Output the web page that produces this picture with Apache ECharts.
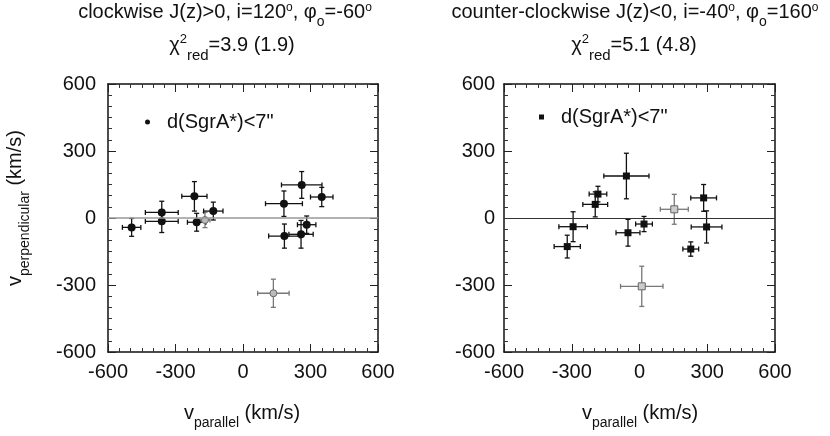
<!DOCTYPE html>
<html>
<head>
<meta charset="utf-8">
<script src="https://cdn.jsdelivr.net/npm/echarts@6/dist/echarts.min.js"></script>
<style>html,body{margin:0;padding:0;background:#fff}#c{width:830px;height:436px}</style>
</head>
<body>
<div id="c"></div>
<script>
// ---- data (km/s) ----
const axisTicks = [-600, -300, 0, 300, 600];

// clockwise panel, d(SgrA*)<7"
const cwX    = [-495, -361, -361, -216, -206, -132, 182, 261, 350, 184, 258, 283];
const cwY    = [-42, 25, -15, 97, -19, 31, 64, 148, 94, -81, -73, -30];
const cwXErr = [41, 73, 73, 56, 41, 43, 82, 90, 50, 70, 54, 41];
const cwYErr = [40, 50, 50, 66, 40, 40, 57, 60, 43, 54, 62, 39];
// clockwise panel, other stars (grey)
const cwOtherX    = [-169, 135];
const cwOtherY    = [-9, -337];
const cwOtherXErr = [22, 70];
const cwOtherYErr = [34, 63];

// counter-clockwise panel, d(SgrA*)<7"
const ccwX    = [-320, -294, -196, -184, -58, -51, 20, 284, 297, 227];
const ccwY    = [-128, -39, 61, 107, 188, -66, -27, 90, -40, -139];
const ccwXErr = [58, 63, 55, 39, 100, 53, 37, 57, 68, 35];
const ccwYErr = [51, 67, 56, 35, 102, 60, 34, 60, 72, 32];
// counter-clockwise panel, other stars (grey)
const ccwOtherX    = [154, 10];
const ccwOtherY    = [39, -306];
const ccwOtherXErr = [62, 94];
const ccwOtherYErr = [67, 90];

const legendName = 'd(SgrA*)<7"';

// ---- helpers ----
const FF = "'Liberation Sans', Arial, Helvetica, sans-serif";
function zip4(a, b, c, d) { return a.map((v, i) => [v, b[i], c[i], d[i]]); }

function makeAxis(type, gridIndex, position, showLabel, margin) {
  return {
    type: 'value', gridIndex: gridIndex, position: position,
    min: axisTicks[0], max: axisTicks[axisTicks.length - 1], interval: axisTicks[1] - axisTicks[0],
    axisLine: { show: true, onZero: false, lineStyle: { color: '#111', width: 1.5 } },
    axisTick: { show: true, inside: true, length: 8, lineStyle: { color: '#222', width: 1 } },
    minorTick: { show: true, splitNumber: 6, length: 4, lineStyle: { color: '#333', width: 1 } },
    splitLine: { show: false },
    axisLabel: { show: showLabel, margin: margin, fontSize: 20, color: '#111', fontFamily: FF }
  };
}

function errRenderer(color) {
  return function (params, api) {
    const x = api.value(0), y = api.value(1), ex = api.value(2), ey = api.value(3);
    const c = api.coord([x, y]);
    const l = api.coord([x - ex, y]);
    const r = api.coord([x + ex, y]);
    const t = api.coord([x, y + ey]);
    const b = api.coord([x, y - ey]);
    const cap = 2.5;
    const st = { stroke: color, lineWidth: 1.3 };
    return {
      type: 'group',
      children: [
        { type: 'line', shape: { x1: l[0], y1: l[1], x2: r[0], y2: r[1] }, style: st },
        { type: 'line', shape: { x1: c[0], y1: t[1], x2: c[0], y2: b[1] }, style: st },
        { type: 'line', shape: { x1: l[0], y1: l[1] - cap, x2: l[0], y2: l[1] + cap }, style: st },
        { type: 'line', shape: { x1: r[0], y1: r[1] - cap, x2: r[0], y2: r[1] + cap }, style: st },
        { type: 'line', shape: { x1: c[0] - cap, y1: t[1], x2: c[0] + cap, y2: t[1] }, style: st },
        { type: 'line', shape: { x1: c[0] - cap, y1: b[1], x2: c[0] + cap, y2: b[1] }, style: st }
      ]
    };
  };
}

function errSeries(name, xi, data, color) {
  return {
    type: 'custom', name: name, xAxisIndex: xi, yAxisIndex: xi, silent: true,
    renderItem: errRenderer(color), data: data, encode: { x: 0, y: 1 }, z: 2
  };
}

function richBase(size) {
  return {
    sup: { fontSize: 12, fontFamily: FF, fill: '#111', padding: [0, 0, 8, 0] },
    sub: { fontSize: 14, fontFamily: FF, fill: '#111', padding: [20, 0, 0, 0] },
    sup2: { fontSize: 13, fontFamily: FF, fill: '#111', padding: [0, 0, 12, 0] },
    subr: { fontSize: 15, fontFamily: FF, fill: '#111', padding: [22, 0, 0, 0] }
  };
}

function txt(x, y, text, size, rot) {
  return {
    type: 'text', x: x, y: y, rotation: rot || 0, silent: true,
    style: {
      text: text, fontSize: size, fontFamily: FF, fill: '#111',
      align: 'center', verticalAlign: 'middle', textAlign: 'center', textVerticalAlign: 'middle',
      rich: richBase(size)
    }
  };
}

const zeroLine = (color, width) => ({
  symbol: 'none', silent: true, label: { show: false },
  lineStyle: { color: color, width: width, type: 'solid' },
  data: [{ yAxis: 0 }]
});

const chart = echarts.init(document.getElementById('c'));
chart.setOption({
  animation: false,
  backgroundColor: '#fff',
  grid: [
    { left: 108, top: 84, width: 270, height: 268, show: false },
    { left: 504, top: 84, width: 271, height: 268, show: false }
  ],
  xAxis: [
    makeAxis('x', 0, 'bottom', true, 10),
    makeAxis('x', 0, 'top', false, 0),
    makeAxis('x', 1, 'bottom', true, 10),
    makeAxis('x', 1, 'top', false, 0)
  ],
  yAxis: [
    makeAxis('y', 0, 'left', true, 12),
    makeAxis('y', 0, 'right', false, 0),
    makeAxis('y', 1, 'left', true, 9),
    makeAxis('y', 1, 'right', false, 0)
  ],
  legend: [
    {
      left: 145, top: 112, padding: 0, selectedMode: false, itemWidth: 5, itemHeight: 5,
      data: [{ name: legendName, icon: 'circle' }],
      textStyle: { fontSize: 20, fontFamily: FF, color: '#111', lineHeight: 20, padding: [0, 0, 0, 12] }
    },
    {
      left: 539, top: 107, padding: 0, selectedMode: false, itemWidth: 5, itemHeight: 5,
      data: [{ name: legendName, icon: 'rect' }],
      textStyle: { fontSize: 20, fontFamily: FF, color: '#111', lineHeight: 20, padding: [0, 0, 0, 12] }
    }
  ],
  graphic: [
    txt(225, 12, 'clockwise J(z)>0, i=120{sup|o}, φ{sub|o}=-60{sup|o}', 20),
    txt(232, 45, 'χ{sup2|2}{subr|red}=3.9 (1.9)', 20),
    txt(635, 12, 'counter-clockwise J(z)<0, i=-40{sup|o}, φ{sub|o}=160{sup|o}', 20),
    txt(634, 45, 'χ{sup2|2}{subr|red}=5.1 (4.8)', 20),
    txt(242, 413, 'v{sub|parallel} (km/s)', 20),
    txt(640, 413, 'v{sub|parallel} (km/s)', 20),
    txt(15, 208, 'v{sub|perpendicular} (km/s)', 20, Math.PI / 2)
  ],
  series: [
    errSeries('errCwOther', 0, zip4(cwOtherX, cwOtherY, cwOtherXErr, cwOtherYErr), '#777'),
    errSeries('errCw', 0, zip4(cwX, cwY, cwXErr, cwYErr), '#111'),
    errSeries('errCcwOther', 2, zip4(ccwOtherX, ccwOtherY, ccwOtherXErr, ccwOtherYErr), '#777'),
    errSeries('errCcw', 2, zip4(ccwX, ccwY, ccwXErr, ccwYErr), '#111'),
    {
      type: 'scatter', name: 'other (cw)', xAxisIndex: 0, yAxisIndex: 0, symbol: 'circle', symbolSize: 7,
      itemStyle: { color: '#bbb', borderColor: '#666', borderWidth: 1, opacity: 1 },
      data: cwOtherX.map((v, i) => [v, cwOtherY[i]]), z: 3,
      markLine: zeroLine('#999', 1.5)
    },
    {
      type: 'scatter', name: legendName, xAxisIndex: 0, yAxisIndex: 0, symbol: 'circle', symbolSize: 8,
      itemStyle: { color: '#111', opacity: 1 },
      data: cwX.map((v, i) => [v, cwY[i]]), z: 4
    },
    {
      type: 'scatter', name: 'other (ccw)', xAxisIndex: 2, yAxisIndex: 2, symbol: 'rect', symbolSize: 7,
      itemStyle: { color: '#ccc', borderColor: '#666', borderWidth: 1, opacity: 1 },
      data: ccwOtherX.map((v, i) => [v, ccwOtherY[i]]), z: 3,
      markLine: zeroLine('#333', 1)
    },
    {
      type: 'scatter', name: legendName, xAxisIndex: 2, yAxisIndex: 2, symbol: 'rect', symbolSize: 7,
      itemStyle: { color: '#111', opacity: 1 },
      data: ccwX.map((v, i) => [v, ccwY[i]]), z: 4
    }
  ]
});
</script>
</body>
</html>
